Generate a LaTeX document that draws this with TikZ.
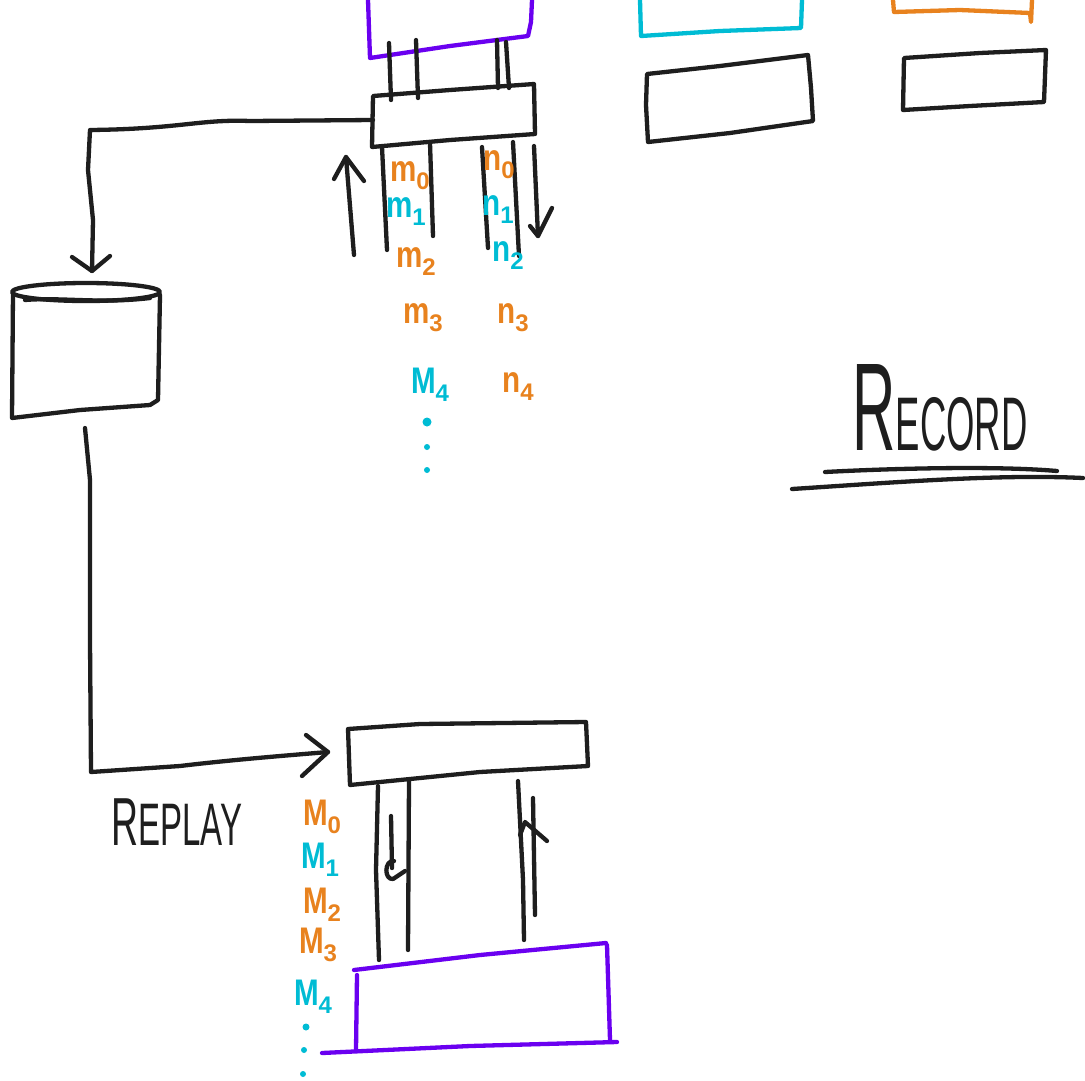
\documentclass[tikz,border=0pt]{standalone}
\usepackage{fontspec}
\setmainfont{Liberation Sans}
\usetikzlibrary{arrows.meta}
\definecolor{ink}{HTML}{1E1E1E}
\definecolor{vio}{HTML}{6A00F0}
\definecolor{cya}{HTML}{00BCD4}
\definecolor{ora}{HTML}{E8821E}
\newcommand{\ms}[2]{\scalebox{0.8}[1]{#1}{\fontsize{24}{24}\selectfont\raisebox{-8pt}{#2}}}
\tikzset{
  pen/.style={line width=4.3pt, line cap=round, line join=round, draw=ink},
  vpen/.style={pen, draw=vio},
  cpen/.style={pen, draw=cya},
  opn/.style={pen, draw=ora},
  lab/.style={inner sep=0pt, font=\bfseries\fontsize{37}{37}\selectfont},
  olab/.style={lab, text=ora},
  clab/.style={lab, text=cya},
  cdot/.style={fill=cya, draw=none},
  title/.style={inner sep=0pt, text=ink}
}
\begin{document}
\begin{tikzpicture}[x=1pt,y=-1pt]
\useasboundingbox[fill=white] (0,0) rectangle (1085,1080);

% ---- partially visible boxes at the top ----
\draw[vpen] (368,0) -- (370,58) -- (450,46) -- (528,36) -- (531,22) -- (532,0);
\draw[cpen] (640,0) -- (641,36) -- (720,31) -- (801,28) -- (802,0);
\draw[opn] (893,0) -- (894,12) -- (960,10) -- (1030,13) -- (1031,22) -- (1032,0);

% ---- black boxes top right ----
\draw[pen] (647,74) -- (720,66) -- (808,55) -- (811,88) -- (813,121) -- (730,133) -- (648,142) -- (646,105) -- cycle;
\draw[pen] (904,58) -- (980,53) -- (1046,50) -- (1044,102) -- (970,106) -- (903,110) -- cycle;

% ---- record box ----
\coordinate (recL) at (373,120);
\draw[pen] (373,96) -- (450,90) -- (534,84) -- (535,134) -- (450,140) -- (372,147) -- cycle;
% links purple -> record box
\draw[pen] (389,43) -- (391,100);
\draw[pen] (416,40) -- (418,98);
\draw[pen] (497,40) -- (498,88);
\draw[pen] (506,42) -- (509,88);
% lines below record box
\draw[pen] (382,147) -- (387,250);
\draw[pen] (430,143) -- (433,236);
\draw[pen] (482,147) -- (488,248);
\draw[pen] (513,142) -- (519,256);
% up arrow
\coordinate (upA) at (354,255);
\coordinate (upB) at (346,157);
\draw[pen] (upA) -- (upB);
\draw[pen] (334,179) -- (upB) -- (364,181);
% down arrow
\coordinate (dnA) at (534,146);
\coordinate (dnB) at (538,236);
\draw[pen] (dnA) -- (dnB);
\draw[pen] (530,226) -- (dnB) -- (552,208);

% ---- cylinder ----
\coordinate (cylT) at (92,271);
\coordinate (cylB) at (85,428);
\draw[pen] (86,292) ellipse [x radius=74, y radius=9];
\draw[pen] (25,300) .. controls (60,297) and (100,304) .. (150,298);
\draw[pen] (13,292) -- (12,418) -- (80,410) -- (150,405) -- (158,400) -- (160,295);

% ---- connector record -> cylinder ----
\draw[pen] (recL) -- (250,121) .. controls (200,119) and (180,129) .. (90,130) -- (88,170) -- (93,220) -- (cylT);
\draw[pen] (72,257) -- (cylT) -- (110,256);

% ---- connector cylinder -> replay box ----
\coordinate (repL) at (328,752);
\draw[pen] (cylB) -- (90,480) -- (90,640) -- (91,772) -- (180,766) .. controls (230,760) and (280,756) .. (repL);
\draw[pen] (306,735) -- (repL) -- (302,776);

% ---- replay box ----
\draw[pen] (348,729) -- (420,724) -- (586,722) -- (588,766) -- (480,772) -- (350,785) -- cycle;
\draw[pen] (378,786) -- (376,870) -- (379,960);
\draw[pen] (409,781) -- (408,950);
\draw[pen] (518,781) -- (523,880) -- (524,940);
\draw[pen] (533,798) -- (535,915);
% hook
\draw[pen] (391,816) -- (392,868);
\draw[pen] (394,861) .. controls (384,860) and (384,880) .. (393,879) -- (405,871);
% small up tick
\draw[pen] (520,835) -- (525,822) -- (547,841);

% ---- purple bottom box ----
\draw[vpen] (354,970) -- (480,955) -- (606,943);
\draw[vpen] (357,975) -- (356,1050);
\draw[vpen] (607,945) -- (610,1040);
\draw[vpen] (322,1053) -- (470,1046) -- (617,1042);

% ---- labels top ----
\node[olab] (tm0) at (410,176) {\ms{m}{0}};
\node[clab] (tm1) at (406,212) {\ms{m}{1}};
\node[olab] (tm2) at (416,262) {\ms{m}{2}};
\node[olab] (tm3) at (423,318) {\ms{m}{3}};
\node[clab] (tm4) at (430,385) {\ms{M}{4}};
\fill[cdot] (427,422) circle (4.5);
\fill[cdot] (427,447) circle (3);
\fill[cdot] (427,470) circle (3);
\node[olab] (tn0) at (499,165) {\ms{n}{0}};
\node[clab] (tn1) at (498,210) {\ms{n}{1}};
\node[clab] (tn2) at (508,256) {\ms{n}{2}};
\node[olab] (tn3) at (513,318) {\ms{n}{3}};
\node[olab] (tn4) at (518,387) {\ms{n}{4}};

% ---- labels bottom ----
\node[olab] (bm0) at (322,817) {\ms{M}{0}};
\node[clab] (bm1) at (320,860) {\ms{M}{1}};
\node[olab] (bm2) at (322,905) {\ms{M}{2}};
\node[olab] (bm3) at (318,945) {\ms{M}{3}};
\node[clab] (bm4) at (313,997) {\ms{M}{4}};
\fill[cdot] (306,1027) circle (3.5);
\fill[cdot] (304,1050) circle (3);
\fill[cdot] (303,1074) circle (3);

% ---- titles ----
\node[title] (record) at (940,408) {\scalebox{0.48}[1]{\fontsize{125}{125}\selectfont R\fontsize{76}{76}\selectfont ECORD}};
\draw[pen] (825,472) .. controls (900,468) and (1000,466) .. (1057,471);
\draw[pen] (792,489) .. controls (900,482) and (1000,474) .. (1083,478);
\node[title] (replay) at (177,822) {\scalebox{0.55}[1]{\fontsize{68}{68}\selectfont R\fontsize{60}{60}\selectfont EPLAY}};
\end{tikzpicture}
\end{document}
